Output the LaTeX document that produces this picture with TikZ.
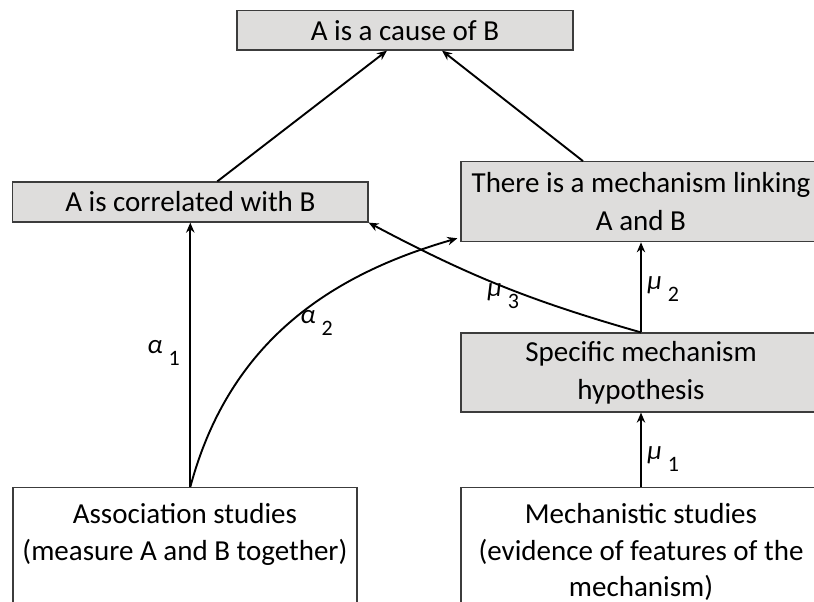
\documentclass[tikz,border=0pt]{standalone}
\usepackage{fontspec}
\setmainfont{Carlito}
\usetikzlibrary{arrows.meta}
\definecolor{boxgray}{RGB}{222,221,220}
\definecolor{boxline}{RGB}{60,60,60}
\begin{document}
\begin{tikzpicture}[x=0.5pt,y=0.5pt,
    graybox/.style={draw=boxline,fill=boxgray,line width=0.6pt,inner sep=0pt,align=center,font=\fontsize{14.5}{19}\selectfont},
    whitebox/.style={draw=boxline,fill=white,line width=0.6pt,inner xsep=0pt,inner ysep=8pt,anchor=north,align=center,font=\fontsize{14.5}{18.2}\selectfont},
    arr/.style={-{Stealth[length=5pt,width=4.2pt]},line width=0.95pt},
    coef/.style={anchor=base west,inner sep=0pt,font=\fontsize{11}{13}\selectfont}]
    \clip (0,-601) rectangle (814,0);
    % boxes
    \node[graybox,minimum width=168pt,minimum height=19.7pt] (cause) at (405,-30.3) {A is a cause of B};
    \node[graybox,minimum width=177.7pt,minimum height=20pt] (corr) at (190.3,-202) {A is correlated with B};
    \node[graybox,minimum width=180pt,minimum height=40pt] (mech) at (641,-201.7) {There is a mechanism linking\\A and B};
    \node[graybox,minimum width=180pt,minimum height=39.5pt] (spec) at (641,-372.5) {Specific mechanism\\hypothesis};
    \node[whitebox,minimum width=172pt] (assoc) at (184.9,-487) {Association studies\\(measure A and B together)\rule[-30pt]{0pt}{0pt}};
    \node[whitebox,minimum width=180pt] (mechst) at (641,-487) {Mechanistic studies\\(evidence of features of the\\mechanism)\rule[-20pt]{0pt}{0pt}};
    % arrows
    \draw[arr] (corr.south |- assoc.north) -- (corr.south);
    \draw[arr] (corr.south |- assoc.north) to[out=75,in=196] ([xshift=-1.5pt,yshift=2pt]mech.south west);
    \draw[arr] (spec.north) to[bend left=6] (corr.south east);
    \draw[arr] (spec.north) -- (mech.south);
    \draw[arr] (mechst.north) -- (spec.south);
    \draw[arr] ([xshift=13.5pt]corr.north) -- ([xshift=-9pt]cause.south);
    \draw[arr] ([xshift=-29pt]mech.north) -- ([xshift=18.5pt]cause.south);
    % labels
    \node[coef] (a1) at (147,-353) {{\fontsize{13.5}{15}\selectfont\itshape α}\hspace{3pt}\raisebox{-6pt}{1}};
    \node[coef] (a2) at (300,-323) {{\fontsize{13.5}{15}\selectfont\itshape α}\hspace{3pt}\raisebox{-6pt}{2}};
    \node[coef] (m3) at (487,-296) {{\fontsize{13.5}{15}\selectfont\itshape μ}\hspace{3pt}\raisebox{-6pt}{3}};
    \node[coef] (m2) at (647,-289) {{\fontsize{13.5}{15}\selectfont\itshape μ}\hspace{3pt}\raisebox{-6pt}{2}};
    \node[coef] (m1) at (647,-459) {{\fontsize{13.5}{15}\selectfont\itshape μ}\hspace{3pt}\raisebox{-6pt}{1}};
\end{tikzpicture}
\end{document}
